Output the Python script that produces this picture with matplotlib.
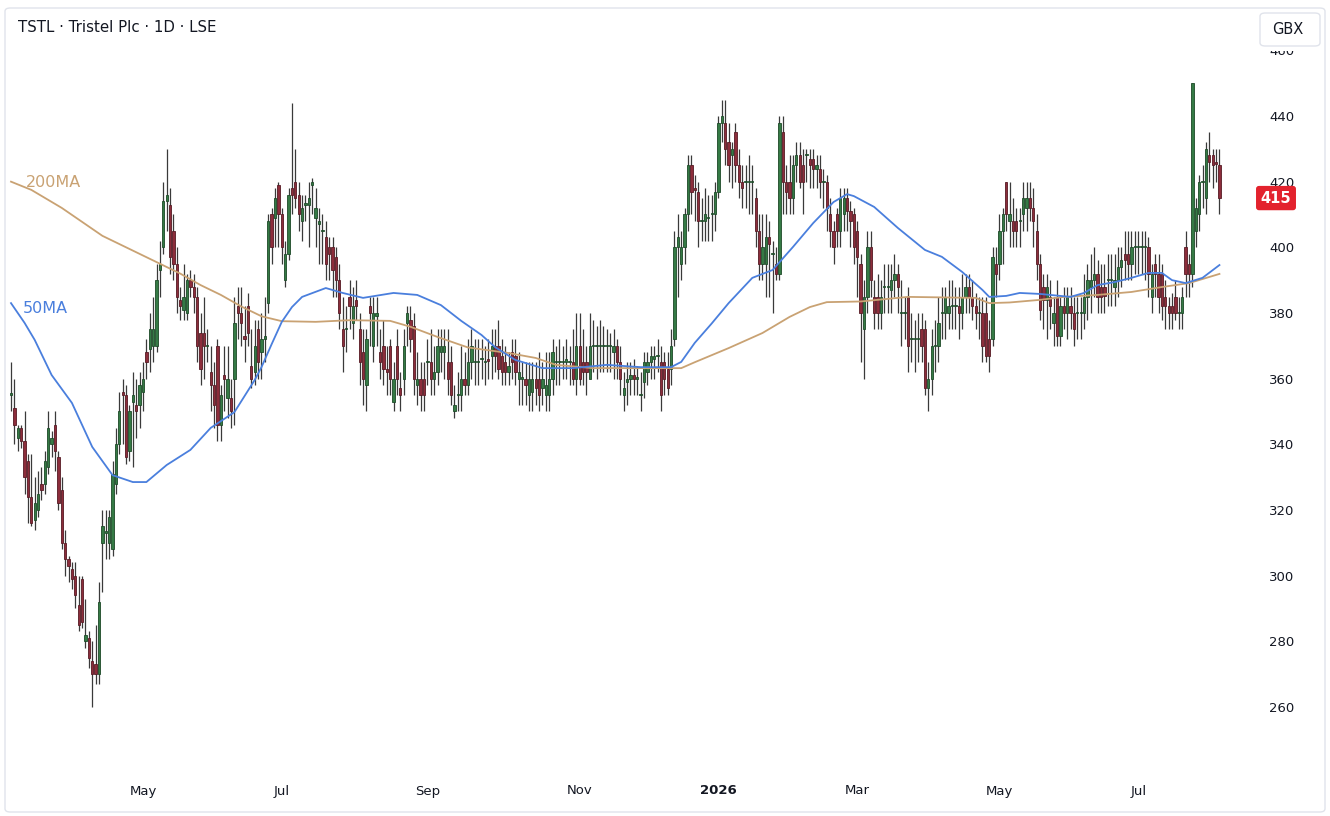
import matplotlib
matplotlib.use("Agg")
import matplotlib.pyplot as plt
from matplotlib.patches import Rectangle, FancyBboxPatch
from matplotlib.transforms import blended_transform_factory
import numpy as np
import pandas as pd

# ---------------- data ----------------
uk_holidays = ["2025-04-18", "2025-04-21", "2025-05-05", "2025-05-26", "2025-08-25",
               "2025-12-25", "2025-12-26", "2026-01-01", "2026-04-03", "2026-04-06",
               "2026-05-04", "2026-05-25"]

opens = [
355,351,342,345,341,335,324,317,320,328,328,333,340,346,336,326,310,305,302,300,
291,299,280,281,274,273,270,310,313,310,308,328,340,356,355,338,353,352,352,356,
368,369,370,370,393,400,414,413,405,395,384,381,380,390,388,385,374,374,370,362,
358,370,346,361,354,354,360,382,380,373,382,364,362,375,368,372,383,410,409,419,
410,390,398,418,420,416,408,413,413,419,409,407,405,403,400,400,397,390,375,375,
385,377,384,375,368,358,382,370,379,368,370,363,370,353,370,357,360,377,378,376,
358,360,360,365,365,360,362,368,368,365,365,350,355,355,360,358,365,365,365,366,365,
366,
367,370,370,367,365,362,368,367,360,360,360,355,356,360,360,357,355,355,360,365,365,365,
365,
365,365,360,370,365,365,360,370,370,370,
370,
370,370,368,370,365,355,359,360,
361,
360,355,359,362,365,366,367,365,365,363,363,372,400,395,400,410,425,418,417,408,408,
409,
410,410,417,438,438,432,428,435,425,420,420,420,420,415,405,395,395,403,398,395,392,435,420,420,415,425,428,425,428,427,427,424,424,420,420,410,405,410,
405,410,415,411,410,405,395,375,385,400,385,385,380,388,388,387,390,392,380,380,
385,372,372,372,375,375,357,360,370,370,380,380,380,382,382,382,380,385,388,385,
382,380,380,380,372,372,395,395,405,420,408,408,408,408,410,412,415,412,405,395,
388,384,385,377,385,373,382,380,382,380,380,380,380,385,388,390,392,388,388,
390,390,388,390,394,398,398,395,400,400,400,400,400,385,395,392,392,385,382,382,385,380,380,400,395,392,405,410,420,415,428,428,426,425]

highs = [
365,360,346,346,350,337,337,330,332,333,338,350,344,350,338,330,314,306,304,304,
300,300,293,283,280,285,298,320,320,320,335,345,356,360,358,352,362,360,362,365,
372,380,385,395,402,420,430,418,410,400,388,395,392,393,392,388,380,385,375,370,
365,372,358,370,370,360,385,388,388,382,386,375,378,378,380,385,410,412,418,420,
412,402,418,444,430,420,416,416,420,421,418,412,410,408,403,403,400,395,385,382,
390,388,390,380,375,375,385,385,385,375,378,370,372,365,375,362,375,382,382,380,
368,365,365,372,375,370,375,375,375,375,370,358,362,370,368,372,375,372,372,372,370,
372,
375,375,378,372,370,368,372,372,368,365,365,365,365,365,368,365,368,368,372,370,372,370,
372,
370,375,380,380,375,370,380,378,376,378,
376,
375,374,375,372,370,362,365,365,
366,
364,362,368,368,370,370,372,370,368,368,375,405,410,405,412,428,428,422,420,415,418,
416,
416,420,440,445,445,438,432,438,430,425,425,428,425,418,410,410,410,408,402,400,440,440,425,428,428,432,432,430,430,430,430,428,428,424,422,415,408,412,
418,418,418,414,412,408,398,390,405,405,390,392,390,395,395,395,398,395,390,385,
388,380,378,380,380,378,365,375,378,385,388,388,390,390,388,388,392,392,392,390,
386,385,385,385,378,400,400,410,412,420,420,415,412,412,420,420,420,418,410,398,
392,392,390,385,390,385,388,388,388,385,385,385,392,395,398,400,396,395,395,
398,398,398,400,400,405,405,405,405,405,405,405,403,395,398,398,395,390,385,386,390,385,388,405,398,450,415,422,425,432,435,430,430,430]

lows = [
350,340,338,339,325,316,315,314,318,323,325,331,336,332,320,308,300,298,296,290,
283,284,278,272,260,267,267,295,305,305,306,325,337,340,334,335,333,342,345,350,
360,362,365,368,385,398,405,392,390,380,378,378,378,385,380,365,358,360,365,350,
345,341,341,350,348,345,346,372,370,365,370,357,358,360,360,365,380,395,400,400,
395,388,396,410,412,405,402,408,400,410,400,395,395,390,390,385,385,375,362,368,
375,372,378,358,352,350,370,365,370,360,358,355,355,350,355,350,355,370,368,355,
352,350,350,358,355,355,358,362,360,355,352,348,350,350,355,355,360,358,358,360,358,
360,
360,362,360,358,358,358,360,358,352,352,352,350,350,352,350,352,350,350,355,358,358,360,
360,
358,358,355,358,358,355,362,362,360,362,
362,
362,362,360,360,355,350,352,355,
355,
355,350,354,358,360,360,362,350,355,355,358,370,385,390,395,405,410,408,400,402,402,
402,
402,405,415,432,425,420,418,420,415,412,412,410,410,400,390,390,385,385,380,390,390,410,410,410,410,420,418,410,420,418,418,418,415,412,405,400,395,400,
400,405,405,400,395,385,365,360,380,385,375,375,375,380,380,380,385,380,370,372,
362,365,362,365,365,355,350,355,362,365,372,372,375,375,375,372,375,380,380,378,
375,372,365,365,362,370,385,390,395,405,400,400,400,400,405,405,408,400,390,378,
375,372,375,370,370,370,375,372,375,370,372,372,375,378,380,385,380,380,380,
382,382,382,385,388,390,390,390,392,392,392,390,385,380,385,380,378,375,375,375,378,375,375,385,385,388,400,405,412,410,420,418,420,410]

closes = [
355.5,346,345,341,330,324,316,322,325,326,335,345,342,338,322,310,305,303,299,294,
285,286,282,275,270,270,292,315,313.5,318,331,340,350,355,336,350,355,350,358,360,
365,375,375,390,395,414,416,397,395,385,382,385,390,388,385,370,363,370,370.3,358,
352,346,355,360,360,350,377,380,377,372,374,360,370,365,372,373,408,400,415,410,
400,398,416,416,415,410,412,413.3,415,420,412,408,405.3,395,398,393,390,380,370,375.3,
382,382,382,365,360,372,380,380,380,365,363,362,360,360,360,355,370,380,372,360,
360,355,355,365.3,360,362,370,370,370,360,355,352,355.3,360,358,365,370,365.3,365,366,365.2,
365.5,
370,367,363,362,362,364,365,362,362,360.3,358,360,360,357,355,360,358,360,368,365.3,365,365.2,
366,
365,360,370,360,362,362,370,370.3,370,370.2,
370.1,
370,370.3,370,365,360,357,360,361,
360,
360.2,355.2,365,365,367,367,367.2,355,360,357,370,400,403,400,410,425,417,417.5,408,408.2,410,
409,
410.3,417,438,440,430,425,430,425,420,418,420.2,420,420.3,405,395,400,403,401,398.2,392,438,420,417,415,425,428,420,420,428.2,425,424,425,420,420.2,412,405,400,405,
415,415,411,408,400,397,380,385,400,390,380,380,385,388.2,388,390,392,388,380.2,380,
370,372.2,372,372.3,370,357,360,370,370.2,377,380.2,385,382,382.2,382,380,385,388,385,382,
380,380.2,370,367,367,397,392,405,410,410,410,405,405,408.2,415,415,412,408,395,381,
384,388,382,380,373,382,380,385,380,375,380.2,380,385,390,390,392,385,385,385.2,
390.2,390,390,394,396,396,395,400,400.2,400,400.3,400.2,392,392,392,385,382,382,380,380,380,380.2,385,392,392,450,412,420,420.2,430,426,425,425.5,415]

ma50_idx = [0,4,7,12,18,24,30,36,40,46,53,59,66,72,74,77,80,83,86,93,98,104,113,120,127,133,139,143,149,
            157,166,176,186,195,198,202,207,212,219,225,231,237,243,247,249,255,262,270,275,281,287,289,
            294,298,304,313,317,321,326,331,336,340,343,347,352,357]
ma50_val = [383.0,377.0,371.8,361.1,352.6,339.2,330.6,328.5,328.5,333.7,338.3,345.0,349.8,359.6,363.5,
            370.5,377.3,381.8,384.9,387.6,386.1,384.6,386.1,385.5,382.4,377.6,373.3,369.6,365.7,363.2,363.2,
            364.2,363.5,363.5,365.1,370.9,376.8,383.0,390.7,393.1,400.1,407.4,413.8,416.2,415.6,412.3,
            405.9,399.2,397.1,392.5,387.0,384.9,385.2,386.1,385.8,384.9,386.1,388.5,389.4,390.7,
            392.2,392.2,390.0,389.1,390.7,394.6]
ma200_idx = [0,6,15,27,37,45,50,56,62,68,74,80,90,100,112,118,126,133,135,147,155,161,172,186,198,
             202,212,222,230,236,241,251,265,285,289,295,304,311,321,331,340,348,357]
ma200_val = [420.0,417.5,412.0,403.5,398.5,394.5,392.0,388.5,385.5,382.0,379.0,377.5,377.3,377.8,
             377.6,375.8,372.7,370.2,369.5,367.8,366.3,364.2,363.2,363.2,363.2,365.0,369.3,373.9,
             378.8,381.8,383.3,383.5,384.9,384.6,383.0,383.2,384.0,384.9,385.5,386.4,387.9,389.1,
             391.9]

price_ticks = [260, 280, 300, 320, 340, 360, 380, 400, 420, 440, 460]
title_text = "TSTL \u00b7 Tristel Plc \u00b7 1D \u00b7 LSE"
last_price = 415

# ---------------- figure ----------------
W, H = 1330, 816
fig = plt.figure(figsize=(W / 100, H / 100), dpi=100)
fig.patch.set_facecolor("white")

ax_left, ax_right, ax_top, ax_bot = 6, 1255, 50, 772
ax = fig.add_axes([ax_left / W, (H - ax_bot) / H, (ax_right - ax_left) / W, (ax_bot - ax_top) / H])
ax.set_facecolor("none")

n = min(len(opens), len(highs), len(lows), len(closes))
o = np.array(opens[:n], float)
h = np.array(highs[:n], float)
l = np.array(lows[:n], float)
c = np.array(closes[:n], float)
x = np.arange(n)

dates = pd.bdate_range("2025-03-05", "2026-08-04", freq="C", holidays=uk_holidays)
dates = dates[-n:] if len(dates) >= n else dates

up = c >= o
body_col = np.where(up, "#357a45", "#8c2d3b")
edge_col = np.where(up, "#1d4a28", "#561a24")

ax.vlines(x, l, h, color="#3a3a3a", linewidth=0.9, zorder=2)
bottoms = np.minimum(o, c)
heights = np.maximum(np.abs(c - o), 0.35)
ax.bar(x, heights, bottom=bottoms, width=0.68, color=body_col, edgecolor=edge_col,
       linewidth=0.6, zorder=3)

ax.plot(ma200_idx, ma200_val, color="#c9a273", linewidth=1.3, zorder=4,
        solid_joinstyle="round")
ax.plot(ma50_idx, ma50_val, color="#4a7fdd", linewidth=1.3, zorder=4,
        solid_joinstyle="round")

# axis scaling: index 0 at px 11, spacing 3.385 px
px_per = 3.385
x0px = 11
ax.set_xlim((ax_left - x0px) / px_per, (ax_right - x0px) / px_per)
ppu = 3.283
ax.set_ylim(440 - (ax_bot - 116) / ppu, 440 + (116 - ax_top) / ppu)

for s in ax.spines.values():
    s.set_visible(False)

ax.yaxis.tick_right()
ax.set_yticks(price_ticks)
ax.set_yticklabels([str(v) for v in price_ticks])
ax.tick_params(axis="y", length=0, pad=10, labelsize=9.5, labelcolor="#131722")

# month ticks
tick_pos, tick_lab = [], []
if len(dates) == n:
    prev = None
    for i, d in enumerate(dates):
        key = (d.year, d.month)
        if prev is not None and key != prev and d.month % 2 == 1:
            tick_pos.append(i)
            tick_lab.append(str(d.year) if d.month == 1 else d.strftime("%b"))
        prev = key
ax.set_xticks(tick_pos)
ax.set_xticklabels(tick_lab)
ax.tick_params(axis="x", length=0, pad=9, labelsize=9.5, labelcolor="#131722")
for t in ax.get_xticklabels():
    if t.get_text().isdigit():
        t.set_fontweight("bold")

# MA labels
trans = blended_transform_factory(ax.transAxes, ax.transData)
ax.text((26 - ax_left) / (ax_right - ax_left), 419.6, "200MA", transform=trans,
        color="#c9a273", fontsize=11.5, va="center", ha="left", zorder=5)
ax.text((23 - ax_left) / (ax_right - ax_left), 381.5, "50MA", transform=trans,
        color="#4a7fdd", fontsize=11.5, va="center", ha="left", zorder=5)

# last price tag
ax.text(1.0 + (1276 - ax_right) / (ax_right - ax_left), last_price, str(last_price),
        transform=trans, color="white", fontsize=10.5, fontweight="bold",
        ha="center", va="center", zorder=6, clip_on=False,
        bbox=dict(boxstyle="round,pad=0.32,rounding_size=0.2", facecolor="#e3222d",
                  edgecolor="none"))

# header
fig.text(18 / W, 1 - 27 / H, title_text, fontsize=10.8, color="#131722", va="center", ha="left")

# mask the top of the 460 label, then GBX box
mask = Rectangle((1256 / W, 1 - 51 / H), 66 / W, 43 / H, transform=fig.transFigure,
                 facecolor="white", edgecolor="none", zorder=10)
fig.add_artist(mask)
gbx = FancyBboxPatch((1260 / W, 1 - 46 / H), 60 / W, 33 / H,
                     boxstyle="round,pad=0,rounding_size=0.004",
                     transform=fig.transFigure, facecolor="white",
                     edgecolor="#e0e3eb", linewidth=1.0, zorder=11)
fig.add_artist(gbx)
fig.text(1288 / W, 1 - 29 / H, "GBX", fontsize=10.5, color="#131722", ha="center", va="center",
         zorder=12)

# outer frame (on top so nothing hides it)
frame = FancyBboxPatch((5 / W, 4 / H), 1320 / W, 804 / H,
                       boxstyle="round,pad=0,rounding_size=0.004",
                       transform=fig.transFigure, facecolor="none",
                       edgecolor="#e0e3eb", linewidth=1.0, zorder=20)
fig.add_artist(frame)

fig.savefig("out.png", dpi=100, facecolor="white")
